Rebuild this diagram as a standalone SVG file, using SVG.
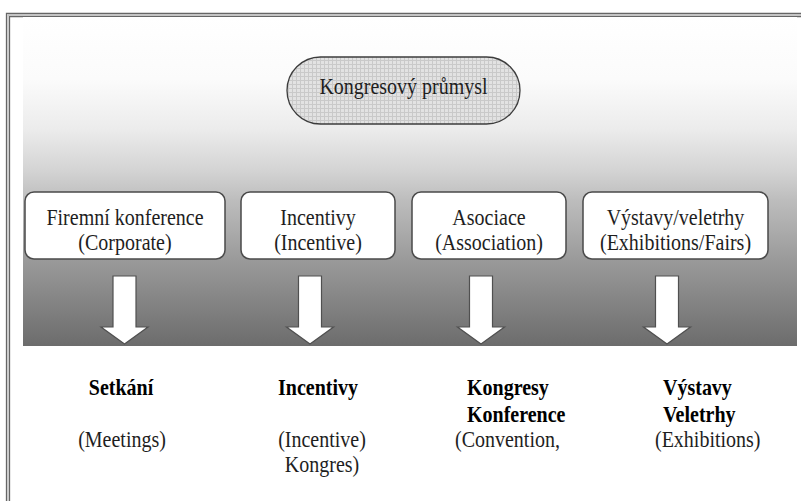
<svg xmlns="http://www.w3.org/2000/svg" width="801" height="501" viewBox="0 0 801 501">
  <defs>
    <linearGradient id="bg" gradientUnits="userSpaceOnUse" x1="0" y1="17" x2="0" y2="346">
      <stop offset="0" stop-color="#ffffff"/>
      <stop offset="0.19" stop-color="#fbfbfb"/>
      <stop offset="0.34" stop-color="#ececec"/>
      <stop offset="0.465" stop-color="#d4d4d4"/>
      <stop offset="0.556" stop-color="#bdbdbd"/>
      <stop offset="0.739" stop-color="#9a9a9a"/>
      <stop offset="0.86" stop-color="#858585"/>
      <stop offset="1" stop-color="#6c6c6c"/>
    </linearGradient>
    <pattern id="grid" patternUnits="userSpaceOnUse" width="4" height="4">
      <rect width="4" height="4" fill="#e2e2e2"/>
      <path d="M0 0.5H4M0.5 0V4" stroke="#c9c9c9" stroke-width="1"/>
    </pattern>
  </defs>
  <style>
    .frame { fill: none; stroke: #666666; stroke-width: 1.3; }
    .box { fill: #ffffff; stroke: #4a4a4a; stroke-width: 1.5; }
    .t { font-family: "Liberation Serif", "Times New Roman", serif; font-size: 20px; fill: #1e1e1e; }
    .c { text-anchor: middle; }
    .b { font-weight: bold; fill: #000000; }
    .arrow { fill: #ffffff; stroke: #505050; stroke-width: 1.2; stroke-linejoin: miter; }
  </style>

  <rect x="0" y="0" width="801" height="501" fill="#ffffff"/>
  <path class="frame" d="M6.5 501V13.5H801"/>
  <path class="frame" d="M9.5 501V16.5H801"/>
  <path d="M8 501V15H801" fill="none" stroke="#b0b0b0" stroke-width="1"/>

  <rect x="23" y="17" width="774" height="329" fill="url(#bg)"/>

  <g id="node-kongresovy-prumysl">
    <rect x="287" y="57" width="233" height="67" rx="33.5" ry="33.5" fill="url(#grid)" stroke="#3c3c3c" stroke-width="1.3"/>
    <text class="t c" transform="translate(403.5 94) scale(1 1.12)">Kongresový průmysl</text>
  </g>

  <g id="node-firemni">
    <rect class="box" x="25" y="192" width="200" height="67" rx="9"/>
    <text class="t c" transform="translate(125 225) scale(1 1.15)">Firemní konference</text>
    <text class="t c" transform="translate(125 250) scale(1 1.15)">(Corporate)</text>
  </g>
  <g id="node-incentivy">
    <rect class="box" x="241" y="192" width="154" height="67" rx="9"/>
    <text class="t c" transform="translate(318 225) scale(1 1.15)">Incentivy</text>
    <text class="t c" transform="translate(318 250) scale(1 1.15)">(Incentive)</text>
  </g>
  <g id="node-asociace">
    <rect class="box" x="412" y="192" width="154" height="67" rx="9"/>
    <text class="t c" transform="translate(489 225) scale(1 1.15)">Asociace</text>
    <text class="t c" transform="translate(489 250) scale(1 1.15)">(Association)</text>
  </g>
  <g id="node-vystavy">
    <rect class="box" x="583" y="192" width="185" height="67" rx="9"/>
    <text class="t c" transform="translate(675.5 225) scale(1 1.15)">Výstavy/veletrhy</text>
    <text class="t c" transform="translate(675.5 250) scale(1 1.15)">(Exhibitions/Fairs)</text>
  </g>

  <g id="connectors">
    <path class="arrow" d="M113 276H136V327H148L124.5 344L101 327H113Z"/>
    <path class="arrow" d="M298.5 276H321.5V327H333.5L310 344L286.5 327H298.5Z"/>
    <path class="arrow" d="M469.5 276H492.5V327H504.5L481 344L457.5 327H469.5Z"/>
    <path class="arrow" d="M655.5 276H678.5V327H690.5L667 344L643.5 327H655.5Z"/>
  </g>

  <g id="node-setkani">
    <text class="t c b" transform="translate(121 395) scale(1 1.15)">Setkání</text>
    <text class="t c" transform="translate(122 447) scale(1 1.15)">(Meetings)</text>
  </g>
  <g id="node-incentivy-out">
    <text class="t c b" transform="translate(318 395) scale(1 1.15)">Incentivy</text>
    <text class="t c" transform="translate(322 447) scale(1 1.15)">(Incentive)</text>
    <text class="t c" transform="translate(322 472) scale(1 1.15)">Kongres)</text>
  </g>
  <g id="node-kongresy">
    <text class="t b" transform="translate(467 395) scale(1 1.15)">Kongresy</text>
    <text class="t b" transform="translate(467 422) scale(1 1.15)">Konference</text>
    <text class="t" transform="translate(455 447) scale(1 1.15)">(Convention,</text>
  </g>
  <g id="node-vystavy-out">
    <text class="t b" transform="translate(663 395) scale(1 1.15)">Výstavy</text>
    <text class="t b" transform="translate(663 422) scale(1 1.15)">Veletrhy</text>
    <text class="t" transform="translate(655 447) scale(1 1.15)">(Exhibitions)</text>
  </g>
</svg>
